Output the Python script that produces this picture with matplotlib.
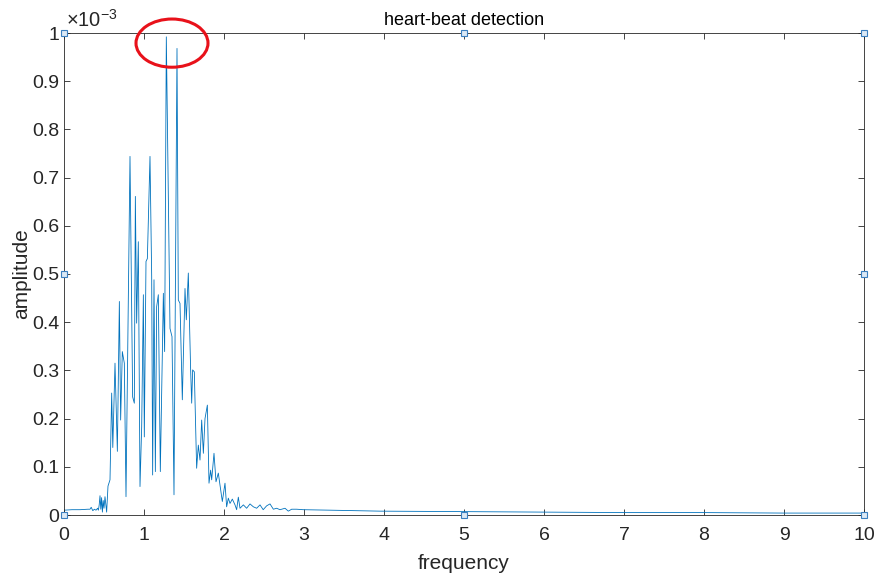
#!/usr/bin/env python
"""Spectrum plot for heart-beat detection, MATLAB look."""

import matplotlib

matplotlib.use("Agg")
import matplotlib.pyplot as plt
from matplotlib.patches import Ellipse
from matplotlib.ticker import FuncFormatter

plt.rcParams["font.family"] = ["Liberation Sans", "DejaVu Sans"]
plt.rcParams["mathtext.fontset"] = "custom"
plt.rcParams["mathtext.rm"] = "Liberation Sans"
plt.rcParams["mathtext.it"] = "Liberation Sans"

# frequency (Hz) and amplitude (x 1e-3)
freq = [
    0.0, 0.10, 0.20, 0.30, 0.325, 0.34, 0.36, 0.38, 0.40, 0.42, 0.43, 0.44, 0.45,
    0.46, 0.47, 0.48, 0.49, 0.50, 0.5125, 0.533, 0.55, 0.575, 0.596, 0.61,
    0.6375, 0.667, 0.692, 0.708, 0.729, 0.754, 0.775, 0.825, 0.858, 0.879,
    0.892, 0.908, 0.929, 0.95, 0.971, 0.992, 1.004, 1.025, 1.042, 1.075,
    1.096, 1.108, 1.125, 1.142, 1.158, 1.179, 1.204, 1.242, 1.258, 1.279,
    1.325, 1.35, 1.375, 1.4125, 1.429, 1.45, 1.479, 1.5125, 1.529, 1.554,
    1.583, 1.596, 1.608, 1.629, 1.658, 1.679, 1.70, 1.721, 1.742, 1.7625,
    1.792, 1.8125, 1.833, 1.846, 1.875, 1.90, 1.929, 1.95, 1.979, 2.0125,
    2.033, 2.054, 2.075, 2.104, 2.1375, 2.158, 2.179, 2.20, 2.242, 2.283,
    2.325, 2.367, 2.408, 2.45, 2.49, 2.533, 2.575, 2.617, 2.658, 2.70,
    2.7625, 2.804, 2.846, 2.908, 2.99, 3.325, 3.95, 5.0, 6.0, 7.0, 8.0,
    9.0, 10.0,
]
amp = [
    0.010, 0.011, 0.011, 0.012, 0.012, 0.016, 0.009, 0.012, 0.010, 0.014,
    0.010, 0.021, 0.040, 0.012, 0.036, 0.006, 0.030, 0.014, 0.038, 0.006,
    0.060, 0.073, 0.253, 0.140, 0.315, 0.132, 0.443, 0.197, 0.339, 0.315,
    0.038, 0.744, 0.245, 0.232, 0.661, 0.398, 0.567, 0.059, 0.183, 0.457,
    0.162, 0.526, 0.532, 0.744, 0.495, 0.083, 0.488, 0.090, 0.432, 0.457,
    0.090, 0.460, 0.339, 0.992, 0.387, 0.370, 0.042, 0.968, 0.446, 0.439,
    0.239, 0.470, 0.405, 0.502, 0.301, 0.232, 0.301, 0.297, 0.097, 0.145,
    0.114, 0.197, 0.128, 0.200, 0.228, 0.066, 0.093, 0.073, 0.128, 0.069,
    0.087, 0.062, 0.028, 0.066, 0.017, 0.035, 0.024, 0.033, 0.021, 0.011,
    0.037, 0.014, 0.021, 0.014, 0.023, 0.017, 0.014, 0.021, 0.011, 0.019,
    0.023, 0.012, 0.014, 0.011, 0.014, 0.008, 0.012, 0.012, 0.011, 0.010,
    0.008, 0.007, 0.006, 0.005, 0.005, 0.004, 0.004,
]

x_ticks = list(range(0, 11))
y_ticks = [0, 0.1, 0.2, 0.3, 0.4, 0.5, 0.6, 0.7, 0.8, 0.9, 1.0]

fig = plt.figure(figsize=(8.77, 5.76), dpi=100)
ax = fig.add_axes([64 / 877, 1 - 515 / 576, 800 / 877, 482 / 576])

ax.plot(freq, amp, color="#0072BD", linewidth=0.6)

ax.set_xlim(0, 10)
ax.set_ylim(0, 1)
ax.set_xticks(x_ticks)
ax.set_yticks(y_ticks)
ax.yaxis.set_major_formatter(FuncFormatter(lambda v, p: f"{v:g}"))
ax.tick_params(
    direction="in", length=4, width=0.6, colors="#262626", labelsize=14,
    top=True, right=True, labelcolor="#262626",
)
ax.tick_params(axis="x", pad=9)
ax.tick_params(axis="y", pad=3.5)
for sp in ax.spines.values():
    sp.set_color("#262626")
    sp.set_linewidth(0.6)

ax.set_title("heart-beat detection", fontsize=13, color="#000000", pad=6)
ax.set_xlabel("frequency", fontsize=15, color="#262626")
ax.set_ylabel("amplitude", fontsize=15, color="#262626")
ax.xaxis.set_label_coords(0.5, -0.08)
ax.yaxis.set_label_coords(-0.041, 0.5)

# exponent label like MATLAB
ax.text(0.003, 1.004, r"$\times10^{-3}$", transform=ax.transAxes,
        fontsize=14.5, color="#262626", va="bottom", ha="left")

# axes selection handles
hx = [0, 0.5, 1, 0, 1, 0, 0.5, 1]
hy = [0, 0, 0, 0.5, 0.5, 1, 1, 1]
ax.plot(hx, hy, "s", transform=ax.transAxes, clip_on=False, ms=4,
        mfc="#dce9f5", mec="#3c80c0", mew=0.8, zorder=5)

# red circle around the main peak
ax.add_patch(Ellipse((1.35, 0.979), 0.9, 0.10, fill=False, edgecolor="#e8111a",
                     linewidth=2.2, clip_on=False, zorder=6))

fig.savefig("out.png", dpi=100)
